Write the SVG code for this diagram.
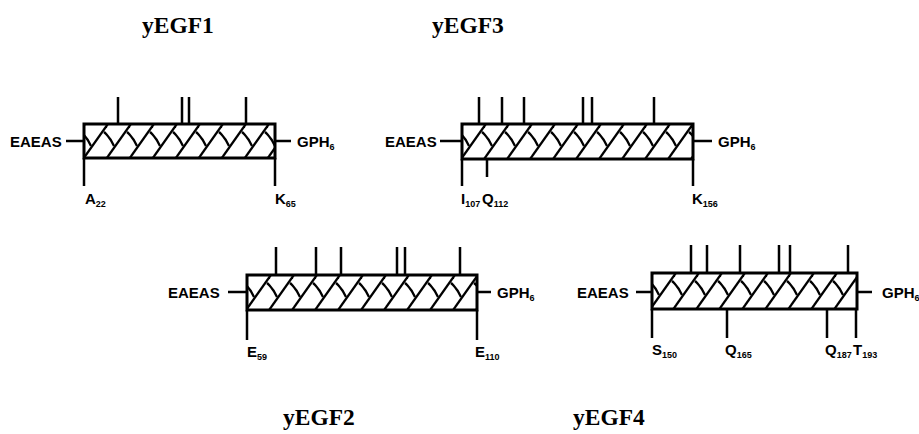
<svg xmlns="http://www.w3.org/2000/svg" width="919" height="434" viewBox="0 0 919 434">
<style>
.title{font-family:"Liberation Serif","Times New Roman",serif;font-weight:bold;font-size:23.5px;fill:#000}
.lbl{font-family:"Liberation Sans",Arial,sans-serif;font-weight:bold;font-size:15px;fill:#000}
.sub{font-size:9px}
.box{fill:url(#hatch);stroke:#000;stroke-width:3}
.ln{stroke:#000;stroke-width:2.5;fill:none}
</style>
<defs>
<pattern id="hatch" patternUnits="userSpaceOnUse" x="0" y="0" width="23" height="35">
<rect width="23" height="35" fill="#fff"/>
<g stroke="#000" stroke-width="2.3" fill="none">
<path d="M-3,38 L26,-3"/>
<path d="M-26,38 L3,-3"/>
<path d="M20,38 L49,-3"/>
<path d="M-3,8 Q3,13 7,22"/>
<path d="M20,8 Q26,13 30,22"/>
<path d="M-26,8 Q-20,13 -16,22"/>
</g>
</pattern>
</defs>

<text class="title" x="142" y="33">yEGF1</text>
<text class="title" x="432" y="33">yEGF3</text>
<text class="title" x="283" y="425">yEGF2</text>
<text class="title" x="573" y="425">yEGF4</text>

<g id="yEGF1">
<rect class="box" transform="translate(84,124)" x="0" y="0" width="191" height="34"/>
<path class="ln" d="M118,97V124M182,97V124M189,97V124M246,97V124M84,158V186M275,158V186M66,141H84M275,141H291"/>
<text class="lbl" x="10" y="146.5">EAEAS</text>
<text class="lbl" x="297" y="146.5">GPH<tspan class="sub" dy="3">6</tspan></text>
<text class="lbl" x="85" y="204">A<tspan class="sub" dy="3">22</tspan></text>
<text class="lbl" x="275" y="204">K<tspan class="sub" dy="3">65</tspan></text>
</g>

<g id="yEGF3">
<rect class="box" transform="translate(462,124)" x="0" y="0" width="231" height="35"/>
<path class="ln" d="M479,97V124M502,97V124M524,97V124M583,97V124M592,97V124M654,97V124M462,159V186M487,159V177M693,159V186M440,141H462M693,141H712"/>
<text class="lbl" x="385" y="146.5">EAEAS</text>
<text class="lbl" x="718" y="146.5">GPH<tspan class="sub" dy="3">6</tspan></text>
<text class="lbl" x="461" y="204">I<tspan class="sub" dy="3">107</tspan></text>
<text class="lbl" x="482" y="204">Q<tspan class="sub" dy="3">112</tspan></text>
<text class="lbl" x="692" y="204">K<tspan class="sub" dy="3">156</tspan></text>
</g>

<g id="yEGF2">
<rect class="box" transform="translate(247,275)" x="0" y="0" width="230" height="35"/>
<path class="ln" d="M276,247V275M316,247V275M341,247V275M397,247V275M405,247V275M460,247V275M247,310V340M477,310V340M228,292H247M477,292H491"/>
<text class="lbl" x="168" y="297.5">EAEAS</text>
<text class="lbl" x="497" y="297.5">GPH<tspan class="sub" dy="3">6</tspan></text>
<text class="lbl" x="247" y="357">E<tspan class="sub" dy="3">59</tspan></text>
<text class="lbl" x="475" y="357">E<tspan class="sub" dy="3">110</tspan></text>
</g>

<g id="yEGF4">
<rect class="box" transform="translate(652,273)" x="0" y="0" width="205" height="36"/>
<path class="ln" d="M691,245V273M707,245V273M740,245V273M779,245V273M790,245V273M848,245V273M652,309V338M727,309V338M827,309V338M856,309V338M636,292H652M857,292H872"/>
<text class="lbl" x="577" y="297.5">EAEAS</text>
<text class="lbl" x="882" y="297.5">GPH<tspan class="sub" dy="3">6</tspan></text>
<text class="lbl" x="652" y="355">S<tspan class="sub" dy="3">150</tspan></text>
<text class="lbl" x="725" y="355">Q<tspan class="sub" dy="3">165</tspan></text>
<text class="lbl" x="825" y="355">Q<tspan class="sub" dy="3">187</tspan></text>
<text class="lbl" x="853" y="355">T<tspan class="sub" dy="3">193</tspan></text>
</g>
</svg>
